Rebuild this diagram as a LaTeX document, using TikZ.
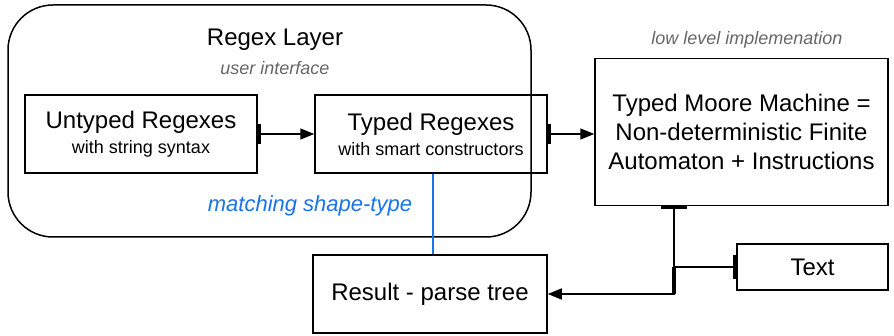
\documentclass[tikz,border=0pt]{standalone}
\usepackage{fontspec}
\setmainfont{Liberation Sans}
\usetikzlibrary{positioning,calc,arrows.meta}
\definecolor{matchblue}{RGB}{26,115,232}
\definecolor{notegray}{RGB}{102,102,102}
\newcommand{\bigtxt}{\fontsize{24}{29}\selectfont}
\newcommand{\subtxt}{\fontsize{18}{22}\selectfont}
\tikzstyle{layer} = [draw, rounded corners=45pt, minimum width=523pt, minimum height=232pt]
\tikzstyle{block} = [draw, rectangle, align=center, font=\bigtxt]
\tikzstyle{note} = [text=notegray, font=\subtxt\itshape]
\tikzstyle{to} = [{Bar[width=20pt,line width=3pt]}-{Triangle[length=14pt,width=11pt]}]

\begin{document}
\begin{tikzpicture}[x=1pt, y=-1pt, line width=1.5pt]
	\useasboundingbox (0,0) rectangle (894,336);
	%
	\node (layer) [layer] at (269.5,121) {};
	\node (title) at (275,40) {\bigtxt Regex Layer};
	\node (ui) [note] at (275,68) {user interface};
	%
	\node (untyped) [block, minimum width=232pt, minimum height=78pt] at (141,134)
		{Untyped Regexes\\[-4pt]{\subtxt with string syntax}};
	\node (typed) [block, minimum width=232pt, minimum height=78pt] at (431,134)
		{Typed Regexes\\[-4pt]{\subtxt with smart constructors}};
	%
	\node (moore) [block, minimum width=293pt, minimum height=147pt] at (741.5,132)
		{Typed Moore Machine =\\Non-deterministic Finite\\Automaton + Instructions};
	\node (low) [note] at (747,40) {low level implemenation};
	%
	\node (res) [block, minimum width=234pt, minimum height=78pt] at (430,294) {Result - parse tree};
	\node (txt) [block, minimum width=151pt, minimum height=46pt] at (812.5,267) {Text};
	%
	\node (match) [text=matchblue, font=\fontsize{22}{26}\selectfont\itshape] at (310,206) {matching shape-type};
	%
	\draw [to] (untyped.east) -- (typed.west);
	\draw [to] (typed.east) -- (typed.east -| moore.west);
	%
	\coordinate (blue) at ($(typed.south west)!0.51!(typed.south east)$);
	\draw [matchblue, line width=2pt] (blue) -- (blue |- res.north);
	%
	\coordinate (out) at ($(moore.south west)!0.27!(moore.south east)$);
	\coordinate (jn) at (out |- txt.west);
	\draw [{Bar[width=26pt,line width=3pt]}-{Triangle[length=14pt,width=11pt]}] (out) |- (res.east);
	\draw [{Bar[width=24pt,line width=3pt]}-] (txt.west) -- (jn);
	\draw [line width=3.5pt] (jn) -- (jn |- res.east);
\end{tikzpicture}
\end{document}
